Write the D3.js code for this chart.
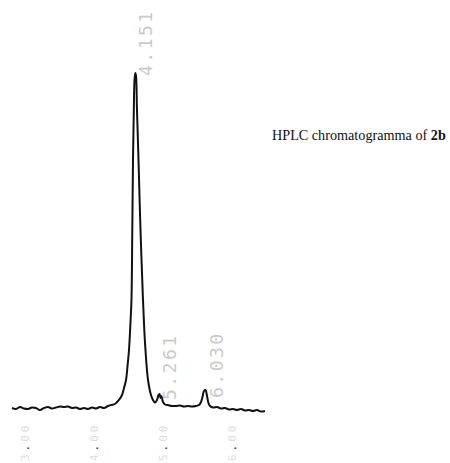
<!DOCTYPE html>
<html>
<head>
<meta charset="utf-8">
<script src="https://cdn.jsdelivr.net/npm/d3@7"></script>
<style>
  body { margin: 0; background: #fff; }
  svg { display: block; }
</style>
</head>
<body>
<svg width="450" height="463"></svg>
<script>
// retention time (min) and detector signal
const times = [
  2.812, 2.870, 2.928, 2.986, 3.043, 3.101, 3.159, 3.217, 3.275, 3.333,
  3.391, 3.449, 3.507, 3.565, 3.623, 3.681, 3.739, 3.797, 3.855, 3.913,
  3.971, 4.029, 4.087, 4.145, 4.203, 4.246, 4.304, 4.362, 4.406, 4.435,
  4.464, 4.486, 4.507, 4.529, 4.543, 4.555, 4.565, 4.577, 4.587, 4.599,
  4.609, 4.623, 4.645, 4.674, 4.710, 4.729, 4.746, 4.783, 4.826, 4.855,
  4.884, 4.913, 4.935, 4.949, 4.964, 4.978, 5.000, 5.029, 5.072, 5.130,
  5.188, 5.246, 5.304, 5.362, 5.420, 5.478, 5.522, 5.551, 5.572, 5.594,
  5.616, 5.638, 5.659, 5.681, 5.725, 5.783, 5.841, 5.899, 5.957, 6.014,
  6.072, 6.130, 6.188, 6.246, 6.304, 6.362, 6.420, 6.478
];
const signal = [
  0.59, 0.30, 0.89, 0.45, 0.30, 0.74, 0.59, 0.00, 0.59, 0.89,
  0.45, 0.74, 1.04, 0.89, 1.04, 0.59, 0.74, 0.30, 0.59, 0.30,
  0.74, 0.45, 0.89, 0.59, 1.19, 1.48, 1.78, 2.97, 4.45, 6.53,
  8.90, 13.06, 17.80, 26.11, 32.64, 53.41, 74.18, 89.02, 97.92, 100.0,
  99.11, 89.02, 74.18, 53.41, 32.64, 23.74, 17.80, 8.90, 4.45, 2.97,
  2.23, 2.97, 4.45, 4.75, 3.56, 4.15, 2.37, 1.63, 1.48, 1.19,
  1.19, 1.34, 1.04, 1.19, 1.04, 1.19, 1.48, 2.37, 3.86, 5.64,
  5.93, 4.15, 2.08, 1.19, 0.74, 0.89, 0.45, 0.59, 0.15, 0.30,
  0.00, 0.30, -0.15, 0.00, -0.30, 0.00, -0.45, -0.30
];

const peakTimes = [4.599, 4.949, 5.616];
const peakLabels = ['4.151', '5.261', '6.030'];

const tickValues = [3, 4, 5, 6];
const tickLabels = ['3.00', '4.00', '5.00', '6.00'];

const svg = d3.select('svg');

svg.append('rect').attr('width', 450).attr('height', 463).attr('fill', '#fff');

const x = d3.scaleLinear().domain([3, 6]).range([25, 232]);
const y = d3.scaleLinear().domain([0, 100]).range([410, 73]);

const points = times.map((t, i) => [t, signal[i]]);

const line = d3.line()
  .x(d => x(d[0]))
  .y(d => y(d[1]))
  .curve(d3.curveCatmullRom.alpha(0.5));

svg.append('path')
  .datum(points)
  .attr('d', line)
  .attr('fill', 'none')
  .attr('stroke', '#111')
  .attr('stroke-width', 2)
  .attr('stroke-linejoin', 'round');

// peak retention labels, rotated like the integrator print-out
const labelTop = [76, 400, 398];
svg.append('g')
  .selectAll('text')
  .data(peakLabels)
  .enter()
  .append('text')
  .attr('transform', (d, i) => `translate(${x(peakTimes[i]) + 17},${labelTop[i]}) rotate(-90)`)
  .attr('font-family', 'DejaVu Sans Mono')
  .attr('font-size', 18)
  .attr('letter-spacing', 2.5)
  .attr('fill', '#cacaca')
  .text(d => d);

// time axis labels (faint in the scan, only the dot prints dark)
const ticks = svg.append('g')
  .selectAll('text')
  .data(tickValues)
  .enter()
  .append('text')
  .attr('transform', d => `translate(${x(d) + 4},461) rotate(-90)`)
  .attr('font-family', 'DejaVu Sans Mono')
  .attr('font-size', 11)
  .attr('letter-spacing', 3)
  .attr('fill', '#dedede');

ticks.append('tspan').text((d, i) => tickLabels[i].split('.')[0]);
ticks.append('tspan').attr('fill', '#222').text('.');
ticks.append('tspan').text((d, i) => tickLabels[i].split('.')[1]);

const title = svg.append('text')
  .attr('x', 272)
  .attr('y', 140)
  .attr('font-family', 'Liberation Serif')
  .attr('font-size', 14.2)
  .attr('fill', '#111');
title.append('tspan').text('HPLC chromatogramma of ');
title.append('tspan').attr('font-weight', 'bold').text('2b');
</script>
</body>
</html>
